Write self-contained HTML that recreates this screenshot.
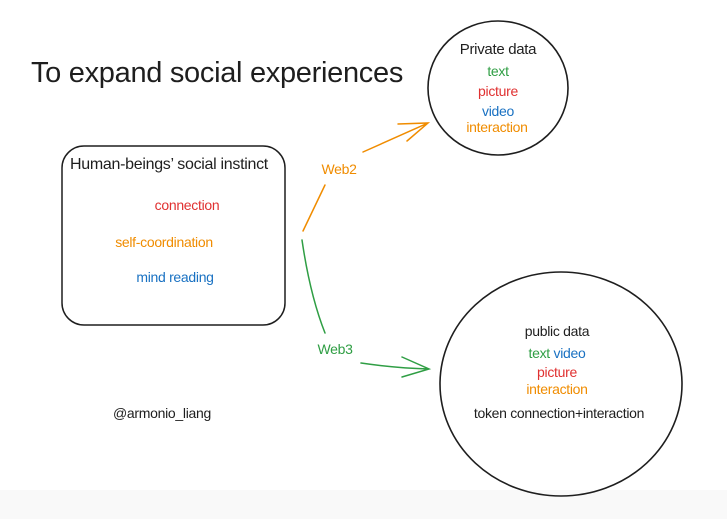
<!DOCTYPE html>
<html><head><meta charset="utf-8"><style>
body{margin:0;width:727px;height:519px;overflow:hidden;background:#fff;font-family:"Liberation Sans",sans-serif}
.t{position:absolute;white-space:nowrap;transform:translateX(-50%);line-height:1;letter-spacing:-0.3px}
</style></head><body>
<div style="position:absolute;left:0;top:490px;width:727px;height:29px;background:#f9f9f9"></div>
<svg width="727" height="519" style="position:absolute;left:0;top:0" fill="none" stroke-linecap="round">
<rect x="62" y="146" width="223" height="179" rx="22" stroke="#1e1e1e" stroke-width="1.5"/>
<ellipse cx="498" cy="88" rx="70" ry="67" stroke="#1e1e1e" stroke-width="1.6"/>
<ellipse cx="561" cy="384" rx="121" ry="112" stroke="#1e1e1e" stroke-width="1.6"/>
<g stroke="#f08c00" stroke-width="1.5">
<path d="M303 231 L325 185"/>
<path d="M363 152 L428 123 M398 124 L428 123 L407 141"/>
</g>
<g stroke="#2f9e44" stroke-width="1.5">
<path d="M302 240 Q310 295 325 333"/>
<path d="M361 363 Q395 368 429 369 M402 357 L429 369 L402 377"/>
</g>
</svg>
<div class="t" style="left:217px;top:59px;font-size:29px;color:#1e1e1e">To expand social experiences</div>
<div class="t" style="left:498px;top:42px;font-size:15px;color:#1e1e1e">Private data</div>
<div class="t" style="left:498px;top:64px;font-size:14px;color:#2f9e44">text</div>
<div class="t" style="left:498px;top:84px;font-size:14px;color:#e03131">picture</div>
<div class="t" style="left:498px;top:104px;font-size:14px;color:#1971c2">video</div>
<div class="t" style="left:497px;top:120px;font-size:14px;color:#f08c00">interaction</div>
<div class="t" style="left:169px;top:157px;font-size:16px;color:#1e1e1e">Human-beings’ social instinct</div>
<div class="t" style="left:187px;top:198px;font-size:14px;color:#e03131">connection</div>
<div class="t" style="left:164px;top:235px;font-size:14px;color:#f08c00">self-coordination</div>
<div class="t" style="left:175px;top:270px;font-size:14px;color:#1971c2">mind reading</div>
<div class="t" style="left:339px;top:162px;font-size:14px;color:#f08c00">Web2</div>
<div class="t" style="left:335px;top:342px;font-size:14px;color:#2f9e44">Web3</div>
<div class="t" style="left:162px;top:406px;font-size:14px;color:#1e1e1e">@armonio_liang</div>
<div class="t" style="left:557px;top:324px;font-size:14px;color:#1e1e1e">public data</div>
<div class="t" style="left:557px;top:346px;font-size:14px;color:#2f9e44">text <span style="color:#1971c2">video</span></div>
<div class="t" style="left:557px;top:365px;font-size:14px;color:#e03131">picture</div>
<div class="t" style="left:557px;top:382px;font-size:14px;color:#f08c00">interaction</div>
<div class="t" style="left:559px;top:406px;font-size:14px;color:#1e1e1e">token connection+interaction</div>
</body></html>
